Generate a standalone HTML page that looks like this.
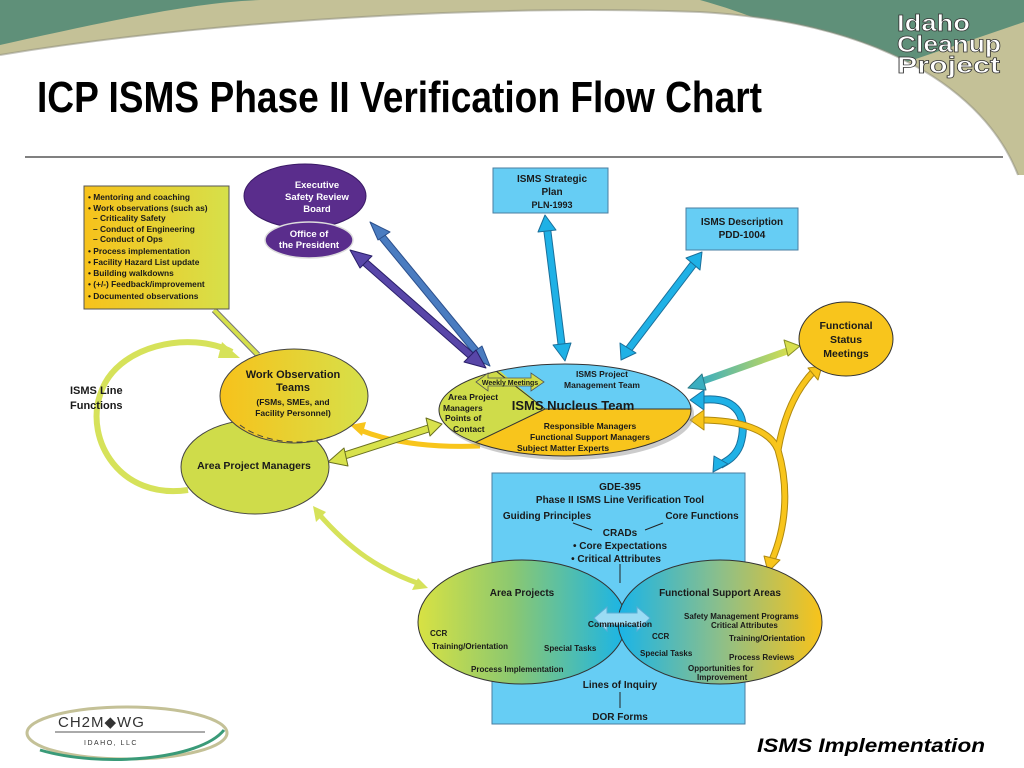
<!DOCTYPE html>
<html><head><meta charset="utf-8"><style>
html,body{margin:0;padding:0;background:#fff}
svg{display:block}
text{font-family:"Liberation Sans",sans-serif;font-weight:bold;fill:#1a1a1a}
</style></head><body>
<svg width="1024" height="768" viewBox="0 0 1024 768" xmlns="http://www.w3.org/2000/svg">
<defs>
<linearGradient id="yl" x1="0" x2="1"><stop offset="0" stop-color="#f7c21b"/><stop offset="1" stop-color="#d6e04a"/></linearGradient>
<linearGradient id="ap" x1="0" x2="1"><stop offset="0" stop-color="#d8e243"/><stop offset="0.45" stop-color="#8cc870"/><stop offset="1" stop-color="#19b4e8"/></linearGradient>
<linearGradient id="fs" x1="0" x2="1"><stop offset="0" stop-color="#19b4e8"/><stop offset="0.5" stop-color="#8cbf8a"/><stop offset="1" stop-color="#f8c31a"/></linearGradient>
<linearGradient id="teal" x1="0" x2="1"><stop offset="0" stop-color="#3aaec0"/><stop offset="1" stop-color="#d8df4c"/></linearGradient>
<clipPath id="nuc"><ellipse cx="565" cy="410" rx="126" ry="46"/></clipPath>
</defs>

<!-- header -->
<rect x="0" y="0" width="1024" height="190" fill="#5f9079"/>
<path d="M0,45 C120,18 200,2 260,0 L700,0 C790,25 840,60 860,78 L1024,22 L1024,190 L0,190 Z" fill="#c4c197"/>
<path d="M0,55 C200,22 480,4 700,12 C880,22 985,90 1018,175 L1024,175 L1024,768 L0,768 Z" fill="#ffffff"/>
<path d="M0,55 C200,22 480,4 700,12 C880,22 985,90 1018,175" fill="none" stroke="#8a8a7a" stroke-width="2" opacity="0.5"/>
<g font-size="23">
<text x="897" y="31" textLength="73" lengthAdjust="spacingAndGlyphs" style="fill:#fff;stroke:#333;stroke-width:0.7;font-weight:bold">Idaho</text>
<text x="897" y="52" textLength="104" lengthAdjust="spacingAndGlyphs" style="fill:#fff;stroke:#333;stroke-width:0.7;font-weight:bold">Cleanup</text>
<text x="897" y="73" textLength="103" lengthAdjust="spacingAndGlyphs" style="fill:#fff;stroke:#333;stroke-width:0.7;font-weight:bold">Project</text>
</g>
<text x="37" y="112" font-size="44" textLength="725" lengthAdjust="spacingAndGlyphs" style="font-family:'Liberation Sans Narrow','Liberation Sans',sans-serif;fill:#000">ICP ISMS Phase II Verification Flow Chart</text>
<line x1="25" y1="157" x2="1003" y2="157" stroke="#000" stroke-width="1"/>

<!-- loop -->
<path d="M188,490 C120,500 85,440 100,395 C115,345 190,330 232,352" fill="none" stroke="#d6e25a" stroke-width="6"/>
<polygon points="240,358 222,342 218,358" fill="#d6e25a"/>
<line x1="214" y1="310" x2="258" y2="355" stroke="#777" stroke-width="6"/>
<line x1="214" y1="310" x2="258" y2="355" stroke="#d6e04a" stroke-width="4"/>

<g stroke-linejoin="round">
<line x1="378" y1="232" x2="480" y2="356" stroke="#2b4f8c" stroke-width="8"/>
<line x1="378" y1="232" x2="480" y2="356" stroke="#4a7cc0" stroke-width="6"/>
<polygon points="370,222 390,232 378,240" fill="#4a7cc0" stroke="#2b4f8c"/>
<polygon points="490,366 468,356 482,346" fill="#4a7cc0" stroke="#2b4f8c"/>
<line x1="360" y1="258" x2="476" y2="360" stroke="#2a1f6a" stroke-width="8"/>
<line x1="360" y1="258" x2="476" y2="360" stroke="#5846a8" stroke-width="6"/>
<polygon points="350,250 372,256 360,268" fill="#5846a8" stroke="#2a1f6a"/>
<polygon points="486,368 464,362 476,350" fill="#5846a8" stroke="#2a1f6a"/>
<line x1="547" y1="228" x2="562" y2="348" stroke="#1a6f9a" stroke-width="8"/>
<line x1="547" y1="228" x2="562" y2="348" stroke="#1fb1e6" stroke-width="6"/>
<polygon points="545,215 538,232 556,230" fill="#1fb1e6" stroke="#1a6f9a"/>
<polygon points="565,361 553,345 571,343" fill="#1fb1e6" stroke="#1a6f9a"/>
<line x1="695" y1="262" x2="628" y2="350" stroke="#1a6f9a" stroke-width="8"/>
<line x1="695" y1="262" x2="628" y2="350" stroke="#1fb1e6" stroke-width="6"/>
<polygon points="702,252 686,258 700,270" fill="#1fb1e6" stroke="#1a6f9a"/>
<polygon points="621,360 620,343 636,353" fill="#1fb1e6" stroke="#1a6f9a"/>
<line x1="700" y1="382" x2="790" y2="350" stroke="url(#teal)" stroke-width="7"/>
<polygon points="688,388 702,374 706,390" fill="#3aaec0" stroke="#2a7a88"/>
<polygon points="800,346 784,340 788,356" fill="#d8df4c" stroke="#889028"/>
<path d="M700,400 C740,395 748,420 740,445 C735,458 725,462 720,465" fill="none" stroke="#1a6f9a" stroke-width="8"/>
<path d="M700,400 C740,395 748,420 740,445 C735,458 725,462 720,465" fill="none" stroke="#1fb1e6" stroke-width="6"/>
<polygon points="690,400 704,390 704,410" fill="#1fb1e6" stroke="#1a6f9a"/>
<polygon points="713,472 714,456 728,464" fill="#1fb1e6" stroke="#1a6f9a"/>
<path d="M700,420 C740,420 770,430 778,450 C790,490 785,530 772,560" fill="none" stroke="#b08a10" stroke-width="7"/>
<path d="M778,450 C785,410 800,385 815,370" fill="none" stroke="#b08a10" stroke-width="7"/>
<path d="M700,420 C740,420 770,430 778,450 C790,490 785,530 772,560" fill="none" stroke="#f8c51c" stroke-width="5"/>
<path d="M778,450 C785,410 800,385 815,370" fill="none" stroke="#f8c51c" stroke-width="5"/>
<polygon points="690,420 704,410 704,430" fill="#f8c51c" stroke="#b08a10"/>
<polygon points="768,572 764,556 780,560" fill="#f8c51c" stroke="#b08a10"/>
<polygon points="822,366 808,368 818,380" fill="#f8c51c" stroke="#b08a10"/>
<path d="M480,446 C430,448 390,442 360,430" fill="none" stroke="#f8c51c" stroke-width="5"/>
<polygon points="350,425 366,422 362,436" fill="#f8c51c"/>
<line x1="340" y1="457" x2="430" y2="428" stroke="#6a7020" stroke-width="8"/>
<line x1="340" y1="457" x2="430" y2="428" stroke="#d8e24c" stroke-width="6"/>
<polygon points="328,462 344,448 348,466" fill="#d8e24c" stroke="#6a7020"/>
<polygon points="442,424 426,418 430,436" fill="#d8e24c" stroke="#6a7020"/>
<path d="M318,513 C350,550 380,570 420,584" fill="none" stroke="#d6e25a" stroke-width="5"/>
<polygon points="313,506 326,512 316,522" fill="#d6e25a"/>
<polygon points="428,588 412,590 418,578" fill="#d6e25a"/>
</g>

<rect x="84" y="186" width="145" height="123" fill="url(#yl)" stroke="#555" stroke-width="1"/>
<g font-size="8.4">
<text x="88" y="200">• Mentoring and coaching</text>
<text x="88" y="211">• Work observations (such as)</text>
<text x="93" y="221">– Criticality Safety</text>
<text x="93" y="232">– Conduct of Engineering</text>
<text x="93" y="242">– Conduct of Ops</text>
<text x="88" y="254">• Process implementation</text>
<text x="88" y="265">• Facility Hazard List update</text>
<text x="88" y="276">• Building walkdowns</text>
<text x="88" y="287">• (+/-) Feedback/improvement</text>
<text x="88" y="299">• Documented observations</text>
</g>

<ellipse cx="305" cy="196" rx="61" ry="32" fill="#5a2d8c" stroke="#3a1a66"/>
<ellipse cx="309" cy="240" rx="44" ry="18" fill="#5a2d8c" stroke="#ddd" stroke-width="1.5"/>
<g font-size="9.5" text-anchor="middle">
<text x="317" y="188" style="fill:#fff">Executive</text>
<text x="317" y="200" style="fill:#fff">Safety Review</text>
<text x="317" y="212" style="fill:#fff">Board</text>
<text x="309" y="237" style="fill:#fff">Office of</text>
<text x="309" y="248" style="fill:#fff">the President</text>
</g>

<rect x="493" y="168" width="115" height="45" fill="#66cdf4" stroke="#4a7ea0"/>
<g font-size="10" text-anchor="middle">
<text x="552" y="182">ISMS Strategic</text>
<text x="552" y="195">Plan</text>
<text x="552" y="208" font-size="9">PLN-1993</text>
</g>
<rect x="686" y="208" width="112" height="42" fill="#66cdf4" stroke="#4a7ea0"/>
<g font-size="10" text-anchor="middle">
<text x="742" y="225">ISMS Description</text>
<text x="742" y="238">PDD-1004</text>
</g>

<ellipse cx="846" cy="339" rx="47" ry="37" fill="#f8c51c" stroke="#333"/>
<g font-size="10.5" text-anchor="middle">
<text x="846" y="329">Functional</text>
<text x="846" y="343">Status</text>
<text x="846" y="357">Meetings</text>
</g>

<ellipse cx="568" cy="414" rx="126" ry="46" fill="#999" opacity="0.5"/>
<g clip-path="url(#nuc)">
<rect x="430" y="355" width="270" height="110" fill="#f8c51c"/>
<rect x="430" y="355" width="270" height="54" fill="#66cdf4"/>
<polygon points="430,360 487,360 545,409 470,445 430,450" fill="#cfdc4a"/>
<line x1="487" y1="364" x2="545" y2="409" stroke="#333"/>
<line x1="545" y1="409" x2="700" y2="409" stroke="#333"/>
<line x1="545" y1="409" x2="470" y2="445" stroke="#333"/>
</g>
<ellipse cx="565" cy="410" rx="126" ry="46" fill="none" stroke="#333"/>
<polygon points="476,382 488,373 488,378 531,378 531,373 544,382 531,391 531,386 488,386 488,391" fill="#cfdc4a" stroke="#555" stroke-width="0.8"/>
<text x="510" y="385" font-size="7" text-anchor="middle">Weekly Meetings</text>
<g font-size="8.5" text-anchor="middle">
<text x="602" y="377">ISMS Project</text>
<text x="602" y="388">Management Team</text>
</g>
<text x="573" y="410" font-size="13" text-anchor="middle">ISMS Nucleus Team</text>
<g font-size="8.5">
<text x="448" y="400">Area Project</text>
<text x="443" y="411">Managers</text>
<text x="445" y="421">Points of</text>
<text x="453" y="432">Contact</text>
</g>
<g font-size="8.5" text-anchor="middle">
<text x="590" y="429">Responsible Managers</text>
<text x="590" y="440">Functional Support Managers</text>
<text x="563" y="451">Subject Matter Experts</text>
</g>

<text x="70" y="394" font-size="11">ISMS Line</text>
<text x="70" y="409" font-size="11">Functions</text>
<ellipse cx="255" cy="467" rx="74" ry="47" fill="#cfdc4a" stroke="#444"/>
<ellipse cx="294" cy="396" rx="74" ry="47" fill="url(#yl)" stroke="#444"/>
<path d="M240,425 A74,47 0 0 0 330,437" fill="none" stroke="#444" stroke-dasharray="6,4"/>
<g text-anchor="middle">
<text x="293" y="378" font-size="11">Work Observation</text>
<text x="293" y="391" font-size="11">Teams</text>
<text x="293" y="405" font-size="8.5">(FSMs, SMEs, and</text>
<text x="293" y="416" font-size="8.5">Facility Personnel)</text>
<text x="254" y="469" font-size="10.5">Area Project Managers</text>
</g>

<rect x="492" y="473" width="253" height="251" fill="#66cdf4" stroke="#4a7ea0"/>
<g text-anchor="middle" font-size="10">
<text x="620" y="490">GDE-395</text>
<text x="620" y="503">Phase II ISMS Line Verification Tool</text>
<text x="547" y="519">Guiding Principles</text>
<text x="702" y="519">Core Functions</text>
<text x="620" y="536">CRADs</text>
<text x="620" y="549">• Core Expectations</text>
<text x="616" y="562">• Critical Attributes</text>
</g>
<line x1="573" y1="523" x2="592" y2="530" stroke="#222"/>
<line x1="663" y1="523" x2="645" y2="530" stroke="#222"/>
<line x1="620" y1="564" x2="620" y2="583" stroke="#222"/>
<ellipse cx="522" cy="622" rx="104" ry="62" fill="url(#ap)" stroke="#333"/>
<ellipse cx="720" cy="622" rx="102" ry="62" fill="url(#fs)" stroke="#333"/>
<path d="M594,618 L607,607 L607,613 L637,613 L637,607 L650,618 L637,631 L637,625 L607,625 L607,631 Z" fill="#9bdcf4" stroke="#5aaed4"/>
<text x="620" y="627" font-size="8.5" text-anchor="middle">Communication</text>
<g font-size="10" text-anchor="middle">
<text x="522" y="596">Area Projects</text>
<text x="720" y="596">Functional Support Areas</text>
<text x="620" y="688">Lines of Inquiry</text>
<text x="620" y="720">DOR Forms</text>
</g>
<line x1="620" y1="692" x2="620" y2="708" stroke="#222"/>
<g font-size="8">
<text x="430" y="636">CCR</text>
<text x="432" y="649">Training/Orientation</text>
<text x="544" y="651">Special Tasks</text>
<text x="471" y="672">Process Implementation</text>
<text x="684" y="619">Safety Management Programs</text>
<text x="711" y="628">Critical Attributes</text>
<text x="652" y="639">CCR</text>
<text x="729" y="641">Training/Orientation</text>
<text x="640" y="656">Special Tasks</text>
<text x="729" y="660">Process Reviews</text>
<text x="688" y="671">Opportunities for</text>
<text x="697" y="680">Improvement</text>
</g>

<ellipse cx="127" cy="733" rx="100" ry="26" fill="none" stroke="#c4c197" stroke-width="3"/>
<path d="M40,750 C100,768 200,760 224,730" fill="none" stroke="#3a9a78" stroke-width="3"/>
<text x="58" y="727" font-size="15" style="font-weight:normal;letter-spacing:1px;fill:#333">CH2M◆WG</text>
<line x1="55" y1="732" x2="205" y2="732" stroke="#555"/>
<text x="84" y="745" font-size="7" style="font-weight:normal;letter-spacing:1.5px;fill:#333">IDAHO, LLC</text>
<text x="757" y="752" font-size="19" font-style="italic" textLength="228" lengthAdjust="spacingAndGlyphs" style="fill:#000">ISMS Implementation</text>
</svg>
</body></html>
